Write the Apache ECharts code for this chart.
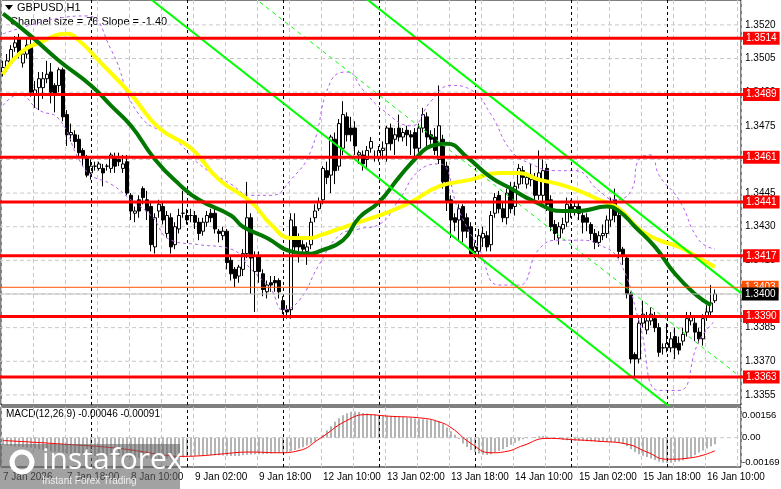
<!DOCTYPE html>
<html>
<head>
<meta charset="utf-8">
<script src="https://cdn.jsdelivr.net/npm/echarts@6/dist/echarts.min.js"></script>
<style>
html,body{margin:0;padding:0;background:#fff;}
#chart{width:781px;height:489px;}
</style>
</head>
<body>
<div id="chart"></div>
<script>
// hourly bars, 7 Jan 02:00 .. 16 Jan (weekend skipped)
const days = ['7 Jan', '8 Jan', '9 Jan', '12 Jan', '13 Jan', '14 Jan', '15 Jan', '16 Jan'];
const dayFirstHour = [2, 0, 0, 0, 0, 0, 0, 0];
const dayLastHour = [23, 23, 23, 23, 23, 23, 23, 18];
const firstLabel = '7 Jan 2026';

// [open, close, low, high]
const candles = [
	[1.3499,1.3501,1.3497,1.3504],[1.3501,1.3504,1.3499,1.3507],[1.3503,1.3509,1.3502,1.3511],[1.3510,1.3512,1.3508,1.3515],
	[1.3514,1.3507,1.3505,1.3516],[1.3503,1.3507,1.3501,1.3509],[1.3507,1.3511,1.3505,1.3514],[1.3511,1.3490,1.3488,1.3515],
	[1.3489,1.3491,1.3483,1.3495],[1.3492,1.3496,1.3482,1.3499],[1.3492,1.3496,1.3487,1.3499],[1.3496,1.3498,1.3494,1.3504],
	[1.3499,1.3490,1.3485,1.3503],[1.3493,1.3489,1.3481,1.3494],[1.3493,1.3500,1.3490,1.3501],[1.3500,1.3479,1.3477,1.3501],
	[1.3480,1.3471,1.3466,1.3482],[1.3471,1.3472,1.3468,1.3476],[1.3471,1.3468,1.3465,1.3473],[1.3469,1.3463,1.3461,1.3471],
	[1.3464,1.3461,1.3457,1.3465],[1.3461,1.3453,1.3452,1.3462],[1.3454,1.3457,1.3451,1.3460],[1.3457,1.3457,1.3455,1.3459],
	[1.3456,1.3458,1.3455,1.3459],[1.3456,1.3454,1.3448,1.3458],[1.3457,1.3457,1.3455,1.3458],[1.3456,1.3462,1.3454,1.3463],
	[1.3461,1.3457,1.3454,1.3463],[1.3460,1.3459,1.3457,1.3463],[1.3456,1.3458,1.3454,1.3462],[1.3459,1.3445,1.3444,1.3462],
	[1.3444,1.3437,1.3433,1.3445],[1.3436,1.3437,1.3432,1.3439],[1.3442,1.3437,1.3434,1.3444],[1.3447,1.3443,1.3440,1.3448],
	[1.3442,1.3437,1.3433,1.3446],[1.3439,1.3422,1.3419,1.3441],[1.3421,1.3434,1.3418,1.3436],[1.3437,1.3440,1.3434,1.3442],
	[1.3439,1.3433,1.3431,1.3441],[1.3427,1.3435,1.3425,1.3437],[1.3434,1.3421,1.3418,1.3436],[1.3422,1.3430,1.3420,1.3432],
	[1.3429,1.3435,1.3427,1.3438],[1.3436,1.3436,1.3434,1.3446],[1.3435,1.3433,1.3431,1.3438],[1.3435,1.3435,1.3432,1.3438],
	[1.3435,1.3432,1.3429,1.3437],[1.3432,1.3427,1.3424,1.3434],[1.3428,1.3432,1.3426,1.3434],[1.3432,1.3435,1.3430,1.3437],
	[1.3436,1.3434,1.3432,1.3438],[1.3436,1.3429,1.3427,1.3438],[1.3428,1.3427,1.3423,1.3429],[1.3426,1.3428,1.3424,1.3430],
	[1.3428,1.3414,1.3411,1.3429],[1.3415,1.3409,1.3406,1.3417],[1.3411,1.3407,1.3403,1.3412],[1.3408,1.3412,1.3405,1.3413],
	[1.3411,1.3418,1.3408,1.3420],[1.3418,1.3434,1.3416,1.3450],[1.3434,1.3416,1.3400,1.3436],[1.3410,1.3417,1.3392,1.3419],
	[1.3417,1.3410,1.3405,1.3419],[1.3409,1.3402,1.3399,1.3411],[1.3401,1.3404,1.3398,1.3406],[1.3405,1.3404,1.3401,1.3408],
	[1.3406,1.3405,1.3401,1.3408],[1.3406,1.3401,1.3398,1.3407],[1.3397,1.3393,1.3391,1.3399],[1.3393,1.3392,1.3389,1.3395],
	[1.3393,1.3433,1.3389,1.3436],[1.3430,1.3421,1.3418,1.3436],[1.3425,1.3421,1.3414,1.3427],[1.3422,1.3420,1.3418,1.3424],
	[1.3419,1.3421,1.3413,1.3423],[1.3422,1.3432,1.3420,1.3434],[1.3434,1.3437,1.3432,1.3440],[1.3438,1.3441,1.3437,1.3443],
	[1.3442,1.3456,1.3440,1.3457],[1.3455,1.3452,1.3449,1.3459],[1.3453,1.3470,1.3445,1.3471],[1.3469,1.3455,1.3449,1.3472],
	[1.3457,1.3476,1.3455,1.3478],[1.3465,1.3480,1.3462,1.3486],[1.3479,1.3471,1.3468,1.3481],[1.3474,1.3471,1.3468,1.3479],
	[1.3474,1.3466,1.3462,1.3477],[1.3462,1.3463,1.3458,1.3464],[1.3462,1.3458,1.3455,1.3464],[1.3460,1.3464,1.3456,1.3466],
	[1.3465,1.3468,1.3463,1.3470],[1.3461,1.3461,1.3459,1.3464],[1.3461,1.3464,1.3459,1.3466],[1.3464,1.3465,1.3460,1.3468],
	[1.3467,1.3474,1.3459,1.3475],[1.3474,1.3467,1.3464,1.3476],[1.3469,1.3471,1.3462,1.3474],[1.3474,1.3470,1.3468,1.3480],
	[1.3470,1.3472,1.3468,1.3474],[1.3473,1.3471,1.3466,1.3475],[1.3471,1.3470,1.3462,1.3473],[1.3472,1.3465,1.3459,1.3474],
	[1.3465,1.3474,1.3463,1.3476],[1.3474,1.3480,1.3472,1.3483],[1.3479,1.3470,1.3465,1.3481],[1.3471,1.3469,1.3467,1.3473],
	[1.3470,1.3464,1.3462,1.3474],[1.3460,1.3475,1.3458,1.3493],[1.3469,1.3450,1.3447,1.3471],[1.3457,1.3441,1.3437,1.3459],
	[1.3442,1.3433,1.3425,1.3444],[1.3434,1.3432,1.3428,1.3436],[1.3433,1.3438,1.3424,1.3440],[1.3439,1.3428,1.3423,1.3440],
	[1.3434,1.3428,1.3425,1.3436],[1.3430,1.3418,1.3417,1.3432],[1.3419,1.3421,1.3416,1.3423],[1.3419,1.3426,1.3416,1.3429],
	[1.3425,1.3427,1.3421,1.3430],[1.3426,1.3421,1.3419,1.3428],[1.3422,1.3435,1.3419,1.3437],[1.3436,1.3443,1.3434,1.3445],
	[1.3444,1.3438,1.3436,1.3446],[1.3438,1.3434,1.3432,1.3441],[1.3434,1.3445,1.3431,1.3447],[1.3447,1.3438,1.3436,1.3450],
	[1.3439,1.3448,1.3435,1.3450],[1.3449,1.3456,1.3447,1.3458],[1.3455,1.3452,1.3449,1.3457],[1.3449,1.3452,1.3447,1.3454],
	[1.3451,1.3453,1.3448,1.3458],[1.3452,1.3444,1.3441,1.3454],[1.3444,1.3454,1.3442,1.3464],[1.3444,1.3455,1.3441,1.3460],
	[1.3456,1.3440,1.3437,1.3458],[1.3442,1.3430,1.3428,1.3444],[1.3431,1.3427,1.3424,1.3433],[1.3425,1.3430,1.3422,1.3432],
	[1.3429,1.3431,1.3427,1.3434],[1.3432,1.3440,1.3430,1.3443],[1.3439,1.3437,1.3434,1.3442],[1.3437,1.3439,1.3435,1.3441],
	[1.3439,1.3436,1.3433,1.3441],[1.3435,1.3432,1.3427,1.3437],[1.3434,1.3432,1.3428,1.3436],[1.3431,1.3427,1.3424,1.3432],
	[1.3427,1.3423,1.3420,1.3429],[1.3423,1.3426,1.3421,1.3428],[1.3426,1.3427,1.3424,1.3431],[1.3427,1.3433,1.3425,1.3435],
	[1.3433,1.3441,1.3430,1.3443],[1.3442,1.3435,1.3432,1.3447],[1.3435,1.3419,1.3416,1.3437],[1.3420,1.3417,1.3413,1.3421],
	[1.3416,1.3400,1.3398,1.3417],[1.3400,1.3371,1.3369,1.3401],[1.3373,1.3371,1.3363,1.3374],[1.3371,1.3387,1.3369,1.3390],
	[1.3387,1.3391,1.3385,1.3397],[1.3384,1.3388,1.3382,1.3392],[1.3388,1.3391,1.3386,1.3394],[1.3389,1.3385,1.3383,1.3392],
	[1.3385,1.3374,1.3372,1.3387],[1.3376,1.3376,1.3373,1.3378],[1.3376,1.3378,1.3374,1.3387],[1.3376,1.3380,1.3374,1.3383],
	[1.3381,1.3376,1.3371,1.3385],[1.3378,1.3375,1.3373,1.3381],[1.3379,1.3382,1.3377,1.3385],[1.3383,1.3389,1.3381,1.3392],
	[1.3388,1.3390,1.3386,1.3392],[1.3387,1.3383,1.3379,1.3390],[1.3383,1.3380,1.3378,1.3385],[1.3380,1.3389,1.3377,1.3391],
	[1.3390,1.3392,1.3388,1.3395],[1.3392,1.3396,1.3390,1.3404],[1.3397,1.3400,1.3396,1.3402]
];

// moving averages and bands, read at [bar index, price]
const maYellow = [[0,1.3498],[4,1.3507],[9,1.3512],[16,1.3516],[19,1.3513],[24,1.3504],[32,1.3489],[39,1.3474],[47,1.3465],
	[54,1.3451],[62,1.3441],[67,1.3431],[72,1.3425],[77,1.3425],[79,1.3426],[84,1.3429],[89,1.3432],[97,1.3437],[102,1.3441],
	[109,1.3448],[117,1.3451],[124,1.3454],[129,1.3454],[134,1.3451],[139,1.3449],[144,1.3446],[149,1.3442],[154,1.3438],
	[159,1.3429],[164,1.3424],[169,1.3421],[174,1.3416],[178,1.3412]];
const maGreen = [[0,1.3525],[7,1.3515],[14,1.3504],[22,1.3493],[27,1.3484],[32,1.3475],[38,1.3460],[44,1.3449],[49,1.3442],
	[57,1.3435],[60,1.3430],[66,1.3425],[72,1.3419],[77,1.3418],[79,1.3419],[85,1.3424],[89,1.3434],[94,1.3441],[99,1.3452],
	[104,1.3462],[107,1.3466],[111,1.3467],[116,1.3461],[122,1.3452],[127,1.3447],[132,1.3442],[140,1.3437],[144,1.3437],
	[151,1.3439],[154,1.3437],[158,1.3430],[163,1.3421],[168,1.3409],[173,1.3400],[177,1.3395]];
const bandUpper = [[0,1.3516],[7,1.3520],[14,1.3523],[21,1.3524],[27,1.3509],[34,1.3480],[43,1.3469],[49,1.3458],[57,1.3449],
	[62,1.3444],[67,1.3444],[72,1.3451],[77,1.3464],[82,1.3495],[86,1.3499],[90,1.3491],[95,1.3482],[102,1.3475],[107,1.3486],
	[112,1.3493],[117,1.3491],[122,1.3480],[127,1.3464],[132,1.3458],[138,1.3455],[143,1.3455],[149,1.3446],[153,1.3442],
	[157,1.3446],[159,1.3460],[162,1.3462],[164,1.3453],[169,1.3442],[174,1.3424],[178,1.3420]];
const bandLower = [[0,1.3484],[4,1.3489],[9,1.3482],[14,1.3478],[19,1.3460],[22,1.3453],[27,1.3449],[32,1.3442],[37,1.3435],
	[42,1.3424],[49,1.3422],[57,1.3420],[62,1.3411],[67,1.3402],[70,1.3393],[74,1.3397],[79,1.3413],[84,1.3426],[89,1.3429],
	[94,1.3431],[99,1.3442],[104,1.3455],[109,1.3458],[114,1.3437],[119,1.3420],[124,1.3404],[129,1.3404],[134,1.3420],
	[139,1.3424],[144,1.3424],[149,1.3422],[154,1.3415],[159,1.3388],[164,1.3357],[169,1.3357],[174,1.3379],[178,1.3388]];

// regression channel
const channelUpper = [[80,1.35468],[190,1.33927]];
const channelLower = [[25,1.35482],[190,1.33171]];
const channelMid = [[50,1.35499],[190,1.33552]];

// horizontal levels
const redLevels = [1.3514, 1.3489, 1.3461, 1.3441, 1.3417, 1.3390, 1.3363];
const bidLevel = 1.3400;
const askLevel = 1.3403;
const priceTicks = [1.3520, 1.3505, 1.3490, 1.3475, 1.3460, 1.3445, 1.3430, 1.3415, 1.3400, 1.3385, 1.3370, 1.3355];

// MACD (x 1e-5)
const macdMain = [
	-50,-55,-58,-60,-62,-65,-68,-70,-75,-80,
	-85,-90,-95,-98,-100,-105,-110,-112,-115,-118,
	-120,-122,-125,-125,-126,-127,-128,-130,-130,-131,
	-132,-135,-138,-140,-142,-143,-145,-146,-146,-147,
	-147,-146,-145,-143,-140,-136,-132,-128,-125,-122,
	-120,-120,-121,-122,-123,-124,-126,-128,-128,-127,
	-122,-118,-117,-116,-116,-115,-113,-110,-108,-106,
	-104,-102,-95,-85,-76,-66,-55,-40,-25,-5,
	20,50,80,110,135,155,170,180,182,178,
	172,168,163,160,157,155,152,150,148,146,
	144,140,137,133,130,128,126,122,118,112,
	95,70,45,20,-10,-40,-65,-85,-100,-110,
	-118,-120,-115,-105,-92,-80,-65,-50,-35,-22,
	-12,-5,0,5,10,12,8,2,-5,-10,
	-15,-18,-20,-22,-22,-24,-25,-26,-27,-28,
	-28,-30,-32,-30,-35,-45,-60,-80,-100,-115,
	-125,-135,-145,-155,-165,-172,-176,-175,-170,-165,
	-158,-148,-135,-120,-104,-90,-75,-60,-46
];
const macdSignal = [[0,-20],[15,-45],[29,-75],[40,-120],[44,-130],[50,-125],[54,-115],[62,-100],[69,-105],[74,-90],
	[79,-10],[86,120],[91,160],[96,150],[105,135],[109,110],[112,70],[117,-40],[122,-105],[126,-95],[130,-55],[136,-5],
	[143,-15],[149,-25],[156,-45],[161,-100],[166,-150],[172,-140],[178,-91]];
const macdTicks = [0.00156, 0, -0.00169];
const macdTickText = ['0.00156', '0.00', '-0.00169'];

// categories
let categories = [];
days.forEach(function(d, k) {
	for (let h = dayFirstHour[k]; h <= dayLastHour[k]; h++) {
		categories.push(d + ' ' + (h < 10 ? '0' : '') + h + ':00');
	}
});
categories = categories.slice(0, 185);
const lastIdx = categories.length - 1;
const daySeparators = [];
categories.forEach(function(c, i) { if (i > 0 && c.endsWith(' 00:00')) daySeparators.push(i); });

const font = '"Liberation Sans", Arial, sans-serif';
const sc = function(arr) { return arr.map(function(p) { return [p[0], p[1] / 100000]; }); };

// a full-width horizontal line with its value label at the right edge
function hLine(axis, value, text, color, width, dash, labelColor, labelBg, z, size, shift) {
	return {
		type: 'line', xAxisIndex: axis, yAxisIndex: axis, data: [[-1, value], [lastIdx + 1, value]],
		showSymbol: false, silent: true, z: z, clip: false,
		lineStyle: {color: color, width: width, type: dash},
		endLabel: {show: text !== '', formatter: text, color: labelColor, backgroundColor: labelBg,
			fontSize: size || 10, fontFamily: font, padding: [2, 3, 1, 3], distance: 2, offset: [shift || -2, 0]}
	};
}

const chart = echarts.init(document.getElementById('chart'));

let series = [];
priceTicks.forEach(function(v) {
	series.push(hLine(0, v, v.toFixed(4), '#c8c8c8', 1, [4, 3], '#000', 'transparent', 1));
});
series.push({type: 'line', xAxisIndex: 0, yAxisIndex: 0, data: [], silent: true, z: 1,
	markLine: {symbol: 'none', silent: true, label: {show: false},
		data: daySeparators.map(function(i) { return {xAxis: categories[i]}; }),
		lineStyle: {color: '#000', type: [3, 3], width: 1}}});
series.push({type: 'candlestick', xAxisIndex: 0, yAxisIndex: 0, data: candles, barWidth: 3, z: 3,
	itemStyle: {color: '#fff', color0: '#000', borderColor: '#000', borderColor0: '#000', borderWidth: 1}});
[bandUpper, bandLower].forEach(function(b) {
	series.push({type: 'line', xAxisIndex: 0, yAxisIndex: 0, data: b, smooth: true, showSymbol: false, z: 4,
		lineStyle: {color: '#b45ff0', width: 1, type: [3, 3]}});
});
series.push({type: 'line', xAxisIndex: 0, yAxisIndex: 0, data: maYellow, smooth: true, showSymbol: false, z: 5,
	lineStyle: {color: '#ffff00', width: 4}});
series.push({type: 'line', xAxisIndex: 0, yAxisIndex: 0, data: maGreen, smooth: true, showSymbol: false, z: 6,
	lineStyle: {color: '#007800', width: 4}});
series.push({type: 'line', xAxisIndex: 0, yAxisIndex: 0, data: channelUpper, showSymbol: false, clip: true, z: 6,
	lineStyle: {color: '#00ff00', width: 2}});
series.push({type: 'line', xAxisIndex: 0, yAxisIndex: 0, data: channelLower, showSymbol: false, clip: true, z: 6,
	lineStyle: {color: '#00ff00', width: 2}});
series.push({type: 'line', xAxisIndex: 0, yAxisIndex: 0, data: channelMid, showSymbol: false, clip: true, z: 6,
	lineStyle: {color: '#00ff00', width: 1, type: [4, 4]}});
redLevels.forEach(function(v) {
	series.push(hLine(0, v, v.toFixed(4), '#ff0000', 3, 'solid', '#fff', '#ff0000', 7));
});
series.push(hLine(0, bidLevel, bidLevel.toFixed(4), '#c0c0c0', 1, 'solid', '#fff', '#000', 8));
series.push(hLine(0, askLevel, askLevel.toFixed(4), '#ff5000', 1, 'solid', '#fff', '#ff5000', 7));

// MACD panel
macdTicks.forEach(function(v, k) {
	series.push(hLine(1, v, macdTickText[k], k === 1 ? '#c8c8c8' : 'rgba(0,0,0,0)', 1, [4, 3], '#000', 'transparent', 1, 9.5, -5));
});
series.push({type: 'bar', xAxisIndex: 1, yAxisIndex: 1, data: macdMain.map(function(v) { return v / 100000; }),
	barWidth: 2, itemStyle: {color: '#b4b4b4'}, z: 2,
	markLine: {symbol: 'none', silent: true, label: {show: false},
		data: daySeparators.map(function(i) { return {xAxis: categories[i]}; }),
		lineStyle: {color: '#000', type: [3, 3], width: 1}}});
series.push({type: 'line', xAxisIndex: 1, yAxisIndex: 1, data: sc(macdSignal), smooth: true, showSymbol: false, z: 3,
	lineStyle: {color: '#ff0000', width: 1}});

const option = {
	animation: false,
	backgroundColor: '#fff',
	grid: [
		{left: 1, width: 740, top: 0, height: 405, show: true, borderColor: '#000', borderWidth: 1, backgroundColor: '#fff'},
		{left: 1, width: 740, top: 407, height: 60, show: true, borderColor: '#000', borderWidth: 1, backgroundColor: '#fff'}
	],
	xAxis: [
		{type: 'category', gridIndex: 0, data: categories, boundaryGap: true,
			axisLine: {show: false}, axisTick: {show: false}, axisLabel: {show: false},
			splitLine: {show: true, interval: function(i) { return i % 8 === 0; }, lineStyle: {color: '#c8c8c8', type: [4, 3]}}},
		{type: 'category', gridIndex: 1, data: categories, boundaryGap: true,
			axisLine: {show: false}, axisTick: {show: false},
			axisLabel: {show: true, interval: 15, color: '#000', fontSize: 10, fontFamily: font, align: 'left', margin: 5,
				formatter: function(v, i) { return i === 0 ? firstLabel : v; }},
			splitLine: {show: true, interval: function(i) { return i % 8 === 0; }, lineStyle: {color: '#c8c8c8', type: [4, 3]}}}
	],
	yAxis: [
		{type: 'value', gridIndex: 0, min: 1.33505, max: 1.35311,
			axisLine: {show: false}, axisTick: {show: false}, axisLabel: {show: false}, splitLine: {show: false}},
		{type: 'value', gridIndex: 1, min: -0.00204, max: 0.00213,
			axisLine: {show: false}, axisTick: {show: false}, axisLabel: {show: false}, splitLine: {show: false}}
	],
	graphic: [
		{type: 'polygon', shape: {points: [[5, 5], [13, 5], [9, 10]]}, style: {fill: '#000'}},
		{type: 'text', left: 17, top: 2, style: {text: 'GBPUSD,H1', fill: '#000', font: '11px ' + font}},
		{type: 'text', left: 10, top: 16, style: {text: 'Channel size = 76 Slope = -1.40', fill: '#000', font: '11px ' + font}},
		{type: 'text', left: 6, top: 409, style: {text: 'MACD(12,26,9) -0.00046 -0.00091', fill: '#000', font: '10px ' + font}},
		{type: 'rect', shape: {x: 0, y: 444, width: 180, height: 45}, style: {fill: 'rgba(100,100,100,0.6)'}, z: 10},
		{type: 'circle', shape: {cx: 22, cy: 462, r: 10}, style: {fill: 'none', stroke: '#fff', lineWidth: 5}, z: 11},
		{type: 'text', left: 42, top: 445, style: {text: 'instaforex', fill: '#fff', font: '30px "Open Sans", sans-serif'}, z: 11},
		{type: 'text', left: 42, top: 476, style: {text: 'Instant Forex Trading', fill: '#eee', font: '10px ' + font}, z: 11}
	],
	series: series
};
chart.setOption(option);
</script>
</body>
</html>
